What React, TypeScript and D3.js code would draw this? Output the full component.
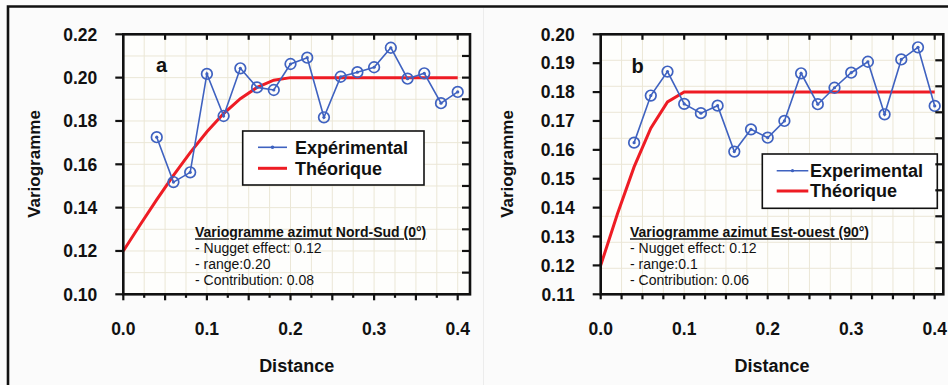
import React from "react";
import * as d3 from "d3";

// ---------- data ----------
const expDistances = [0.04, 0.06, 0.08, 0.10, 0.12, 0.14, 0.16, 0.18, 0.20, 0.22, 0.24, 0.26, 0.28, 0.30, 0.32, 0.34, 0.36, 0.38, 0.40];
const theoDistances = [0, 0.02, 0.04, 0.06, 0.08, 0.10, 0.12, 0.14, 0.16, 0.18, 0.20, 0.22, 0.24, 0.26, 0.28, 0.30, 0.32, 0.34, 0.36, 0.38, 0.40];

const expA = [0.1725, 0.1518, 0.1563, 0.2017, 0.1823, 0.2043, 0.1955, 0.1943, 0.2063, 0.2092, 0.1817, 0.2004, 0.2025, 0.2048, 0.2138, 0.1995, 0.2020, 0.1882, 0.1934];
const theoA = [0.12, 0.132, 0.1437, 0.1549, 0.1654, 0.175, 0.1834, 0.1903, 0.1955, 0.1988, 0.20, 0.20, 0.20, 0.20, 0.20, 0.20, 0.20, 0.20, 0.20, 0.20, 0.20];

const expB = [0.1625, 0.1788, 0.1871, 0.1759, 0.1727, 0.1753, 0.1594, 0.1671, 0.1642, 0.1700, 0.1865, 0.1758, 0.1815, 0.1867, 0.1905, 0.1723, 0.1913, 0.1955, 0.1752];
const theoB = [0.12, 0.1378, 0.1541, 0.1675, 0.1766, 0.18, 0.18, 0.18, 0.18, 0.18, 0.18, 0.18, 0.18, 0.18, 0.18, 0.18, 0.18, 0.18, 0.18, 0.18, 0.18];

const xTickLabels = [0.0, 0.1, 0.2, 0.3, 0.4];
const yTicksA = [0.10, 0.12, 0.14, 0.16, 0.18, 0.20, 0.22];
const yTicksB = [0.11, 0.12, 0.13, 0.14, 0.15, 0.16, 0.17, 0.18, 0.19, 0.20];

const legendExpA = "Expérimental";
const legendExpB = "Experimental";
const legendTheo = "Théorique";
const noteTitleA = "Variogramme azimut Nord-Sud (0°)";
const noteTitleB = "Variogramme azimut Est-ouest (90°)";
const noteLinesA = ["- Nugget effect: 0.12", "- range:0.20", "- Contribution: 0.08"];
const noteLinesB = ["- Nugget effect: 0.12", "- range:0.1", "- Contribution: 0.06"];

const BLUE = "#3f62c0";
const RED = "#ee1c24";
const GRID = "#ebe7d6";
const FONT = "'Liberation Sans', Arial, sans-serif";

type PanelProps = {
  left: number; right: number; top: number; bottom: number;
  xMax: number; yDomain: [number, number];
  yTicks: number[]; yFmt: (v: number) => string;
  rightDivisions: number | null; // null => use 0.01 steps
  hGridStep: number | null;
  exp: number[]; theo: number[];
  letter: string; letterX: number; letterY: number;
  legend: { x: number; y: number; w: number; h: number; lineX0: number; lineX1: number; textX: number; row1: number; row2: number; label: string; dot: boolean };
  note: { x: number; y: number; title: string; lines: string[] };
  yLabelX: number; bottomMinorShort: boolean;
};

function Panel(p: PanelProps) {
  const x = d3.scaleLinear().domain([0, p.xMax]).range([p.left, p.right]);
  const y = d3.scaleLinear().domain(p.yDomain).range([p.bottom, p.top]);
  const vGrid = d3.range(0, p.xMax + 1e-9, 0.025);
  let hGrid: number[];
  if (p.rightDivisions) {
    hGrid = d3.range(1, p.rightDivisions).map((i) => p.yDomain[0] + ((p.yDomain[1] - p.yDomain[0]) * i) / p.rightDivisions!);
  } else {
    hGrid = d3.range(p.yDomain[0] + 0.01, p.yDomain[1] - 1e-9, 0.01);
  }
  const topTicks = d3.range(0.05, p.xMax + 1e-9, 0.05);
  const botTicks = d3.range(0, p.xMax + 1e-9, 0.025);
  const lineExp = d3.line<number>().x((_, i) => x(expDistances[i])).y((d) => y(d));
  const lineTheo = d3.line<number>().x((_, i) => x(theoDistances[i])).y((d) => y(d));
  const cx = (p.left + p.right) / 2;
  const lg = p.legend;
  return (
    <g>
      <rect x={p.left} y={p.top} width={p.right - p.left} height={p.bottom - p.top} fill="#fefefc" />
      {vGrid.map((v, i) => (
        <line key={"vg" + i} x1={x(v)} x2={x(v)} y1={p.top} y2={p.bottom} stroke={GRID} strokeWidth={1} />
      ))}
      {hGrid.map((v, i) => (
        <line key={"hg" + i} x1={p.left} x2={p.right} y1={y(v)} y2={y(v)} stroke={GRID} strokeWidth={1} />
      ))}
      {/* annotation */}
      <g fontFamily={FONT} fontSize={14} fill="#111">
        <text x={p.note.x} y={p.note.y} fontWeight="bold" textDecoration="underline">{p.note.title}</text>
        {p.note.lines.map((t, i) => (
          <text key={i} x={p.note.x} y={p.note.y + 16 * (i + 1) - (i === 2 ? 0.5 : 0)}>{t}</text>
        ))}
      </g>
      {/* theoretical */}
      <path d={lineTheo(p.theo) || ""} fill="none" stroke={RED} strokeWidth={3} />
      {/* experimental */}
      <path d={lineExp(p.exp) || ""} fill="none" stroke={BLUE} strokeWidth={1.6} />
      {p.exp.map((v, i) => (
        <g key={"pt" + i}>
          <circle cx={x(expDistances[i])} cy={y(v)} r={5.3} fill="none" stroke={BLUE} strokeWidth={1.7} />
          <circle cx={x(expDistances[i])} cy={y(v)} r={1.6} fill={BLUE} />
        </g>
      ))}
      {/* legend */}
      <rect x={lg.x} y={lg.y} width={lg.w} height={lg.h} fill="#fff" stroke="#111" strokeWidth={1.6} />
      <line x1={lg.lineX0} x2={lg.lineX1} y1={lg.row1} y2={lg.row1} stroke={BLUE} strokeWidth={1.6} />
      {lg.dot && <circle cx={(lg.lineX0 + lg.lineX1) / 2} cy={lg.row1} r={1.8} fill={BLUE} />}
      {!lg.dot && <circle cx={(lg.lineX0 + lg.lineX1) / 2} cy={lg.row1} r={1.6} fill={BLUE} />}
      <line x1={lg.lineX0} x2={lg.lineX1} y1={lg.row2} y2={lg.row2} stroke={RED} strokeWidth={3} />
      <g fontFamily={FONT} fontSize={18} fontWeight="bold" fill="#111">
        <text x={lg.textX} y={lg.row1 + 6.3}>{lg.label}</text>
        <text x={lg.textX} y={lg.row2 + 6.3}>{legendTheo}</text>
      </g>
      {/* frame */}
      <rect x={p.left} y={p.top} width={p.right - p.left} height={p.bottom - p.top} fill="none" stroke="#111" strokeWidth={2.6} />
      {/* top ticks (inward) */}
      {topTicks.map((v, i) => (
        <line key={"tt" + i} x1={x(v)} x2={x(v)} y1={p.top} y2={p.top + 5.5} stroke="#111" strokeWidth={2.2} />
      ))}
      {/* bottom ticks (outward) */}
      {botTicks.map((v, i) => {
        const major = Math.abs(v / 0.05 - Math.round(v / 0.05)) < 1e-6;
        const len = p.bottomMinorShort ? (major ? 6 : 3.5) : 5;
        return <line key={"bt" + i} x1={x(v)} x2={x(v)} y1={p.bottom} y2={p.bottom + len} stroke="#111" strokeWidth={2.2} />;
      })}
      {/* left ticks (outward) */}
      {p.yTicks.map((v, i) => (
        <line key={"lt" + i} x1={p.left - 8} x2={p.left} y1={y(v)} y2={y(v)} stroke="#111" strokeWidth={2.2} />
      ))}
      {/* right ticks (inward) */}
      {hGrid.map((v, i) => (
        <line key={"rt" + i} x1={p.right - 8} x2={p.right} y1={y(v)} y2={y(v)} stroke="#111" strokeWidth={2.2} />
      ))}
      {/* tick labels */}
      <g fontFamily={FONT} fontSize={17.5} fontWeight="bold" fill="#111">
        {p.yTicks.map((v, i) => (
          <text key={"yl" + i} x={p.left - 26} y={y(v) + 6.2} textAnchor="end">{p.yFmt(v)}</text>
        ))}
        {xTickLabels.map((v, i) => (
          <text key={"xl" + i} x={x(v)} y={335} textAnchor="middle">{v.toFixed(1)}</text>
        ))}
      </g>
      <text x={cx + (p.left < 300 ? 0 : 0)} y={371.5} textAnchor="middle" fontFamily={FONT} fontSize={18} fontWeight="bold" fill="#111">Distance</text>
      <text transform={`translate(${p.yLabelX},${164}) rotate(-90)`} textAnchor="middle" fontFamily={FONT} fontSize={17} fontWeight="bold" fill="#111">Variogramme</text>
      <text x={p.letterX} y={p.letterY} fontFamily={FONT} fontSize={20} fontWeight="bold" fill="#111">{p.letter}</text>
    </g>
  );
}

export default function App() {
  return (
    <div style={{ position: "absolute", left: 0, top: 0 }}>
      <svg width={948} height={385} style={{ display: "block" }}>
        <rect x={0} y={0} width={948} height={385} fill="#fbfbfb" />
        <line x1={483.5} x2={483.5} y1={8} y2={385} stroke="#ececec" strokeWidth={1} />
        <Panel
          left={123.3} right={470} top={34.3} bottom={294.3}
          xMax={0.4147} yDomain={[0.10, 0.22]}
          yTicks={yTicksA} yFmt={(v) => v.toFixed(2)}
          rightDivisions={12} hGridStep={0.01}
          exp={expA} theo={theoA}
          letter="a" letterX={156} letterY={71.5}
          legend={{ x: 242.7, y: 131, w: 181.3, h: 54, lineX0: 258, lineX1: 287, textX: 295, row1: 147.3, row2: 168.3, label: legendExpA, dot: true }}
          note={{ x: 195, y: 237.3, title: noteTitleA, lines: noteLinesA }}
          yLabelX={40} bottomMinorShort={true}
        />
        <Panel
          left={600.7} right={943.3} top={34.3} bottom={294.3}
          xMax={0.4103} yDomain={[0.11, 0.20]}
          yTicks={yTicksB} yFmt={(v) => v.toFixed(2)}
          rightDivisions={10} hGridStep={null}
          exp={expB} theo={theoB}
          letter="b" letterX={631.5} letterY={72.5}
          legend={{ x: 762.3, y: 154, w: 175, h: 54.3, lineX0: 776.7, lineX1: 808.3, textX: 810, row1: 170.7, row2: 191, label: legendExpB, dot: false }}
          note={{ x: 630, y: 237.3, title: noteTitleB, lines: noteLinesB }}
          yLabelX={513} bottomMinorShort={false}
        />
        {/* figure border */}
        <path d="M8,390 L8,6.5 L950,6.5" fill="none" stroke="#111" strokeWidth={2.6} />
      </svg>
    </div>
  );
}
